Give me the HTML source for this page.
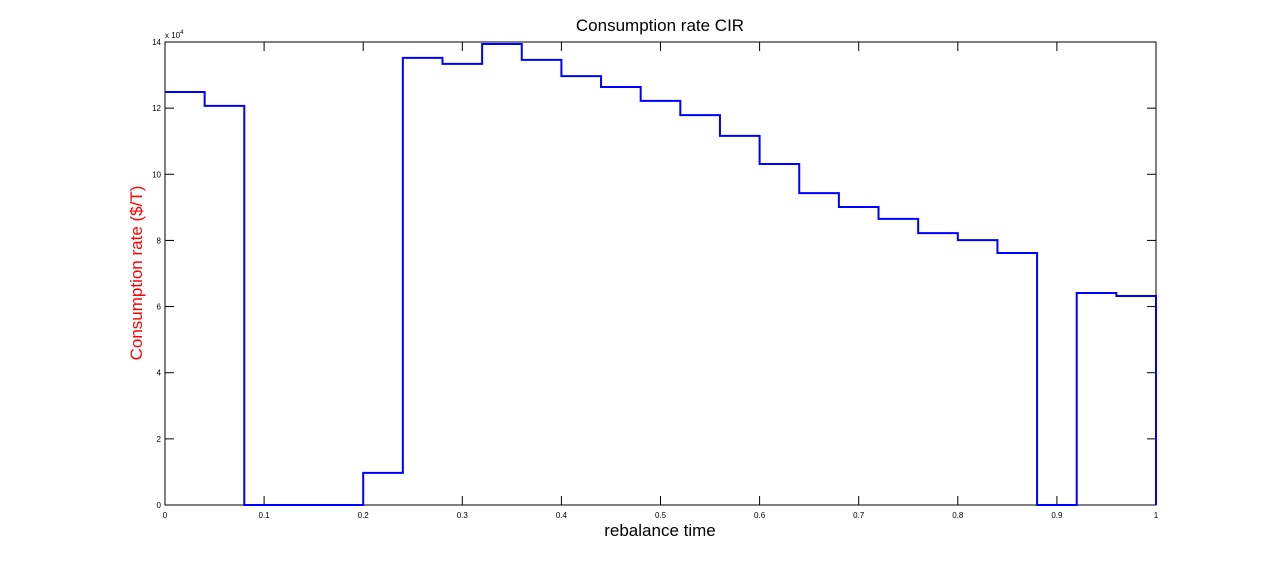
<!DOCTYPE html>
<html><head><meta charset="utf-8"><style>
html,body{margin:0;padding:0;background:#fff;width:1277px;height:567px;overflow:hidden}
text{font-family:"Liberation Sans",Arial,sans-serif}
</style></head><body>
<svg id="chart" width="1277" height="567" xmlns="http://www.w3.org/2000/svg">
<rect x="0" y="0" width="1277" height="567" fill="#fff"/>
<g id="axes"></g>
<g id="series"></g>
<text x="660" y="31" font-size="17" text-anchor="middle">Consumption rate CIR</text>
<text x="660" y="536" font-size="17" text-anchor="middle">rebalance time</text>
<text x="142" y="273" font-size="17" fill="#ff0000" text-anchor="middle" transform="rotate(-90 142 273)">Consumption rate ($/T)</text>
<text x="165" y="38" font-size="8">x 10<tspan dy="-4" font-size="6">4</tspan></text>
</svg>
<script>
const stepEdges = [0,0.04,0.08,0.12,0.16,0.2,0.24,0.28,0.32,0.36,0.4,0.44,0.48,0.52,0.56,0.6,0.64,0.68,0.72,0.76,0.8,0.84,0.88,0.92,0.96,1];
const stepValues = [124900,120700,0,0,0,9700,135200,133400,139400,134600,129700,126400,122200,117900,111600,103100,94300,90100,86500,82200,80100,76200,0,64100,63200];
const xTicks = [0,0.1,0.2,0.3,0.4,0.5,0.6,0.7,0.8,0.9,1];
const xTickLabels = ["0","0.1","0.2","0.3","0.4","0.5","0.6","0.7","0.8","0.9","1"];
const yTicks = [0,2,4,6,8,10,12,14];
const yTickLabels = ["0","2","4","6","8","10","12","14"];

const L=165,R=1156,T=42,B=505,NS="http://www.w3.org/2000/svg";
const xs=v=>L+(R-L)*v;
const ys=v=>B-(B-T)*v/140000;
function mk(tag,attrs,parent){const e=document.createElementNS(NS,tag);for(const k in attrs)e.setAttribute(k,attrs[k]);parent.appendChild(e);return e;}
const ax=document.getElementById('axes');
const frame=mk('rect',{x:L,y:T,width:R-L,height:B-T,fill:'none',stroke:'#000','stroke-width':1},ax);


xTicks.forEach((t,i)=>{
  const x=xs(t);
  const tb=mk('line',{x1:x,x2:x,y1:B,y2:B-9,stroke:'#000'},ax);
  
  
  mk('line',{x1:x,x2:x,y1:T,y2:T+9,stroke:'#000'},ax);
  const lb=mk('text',{x:x,y:B+13,'font-size':8,'text-anchor':'middle'},ax);
  lb.textContent=xTickLabels[i];
  
  
});
yTicks.forEach((t,i)=>{
  const y=ys(t*10000);
  const tl=mk('line',{x1:L,x2:L+9,y1:y,y2:y,stroke:'#000'},ax);
  
  
  mk('line',{x1:R,x2:R-9,y1:y,y2:y,stroke:'#000'},ax);
  const lb=mk('text',{x:L-4,y:y+3,'font-size':8,'text-anchor':'end'},ax);
  lb.textContent=yTickLabels[i];
  
  
});
let d='';
stepValues.forEach((v,i)=>{
  const x0=xs(stepEdges[i]),x1=xs(stepEdges[i+1]),y=ys(v);
  d+=(i===0?'M':'L')+x0+','+y+'L'+x1+','+y;
});
d+='L'+xs(1)+','+ys(0);
const p=mk('path',{d:d,fill:'none',stroke:'#0000ff','stroke-width':2},document.getElementById('series'));


</script>
</body></html>
